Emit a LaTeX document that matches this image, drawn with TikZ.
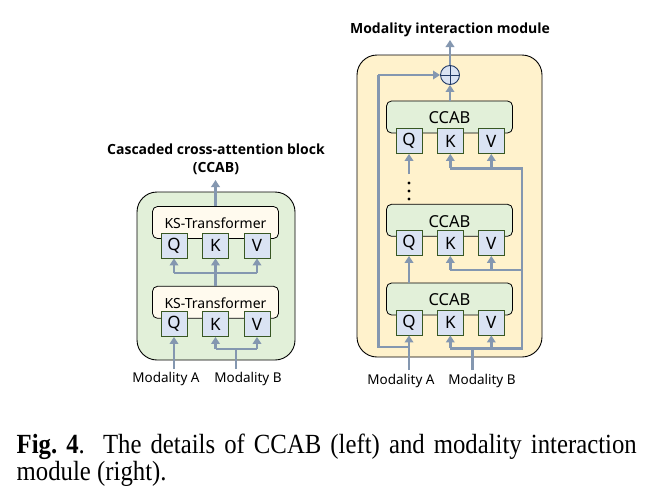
\documentclass[tikz,border=0pt]{standalone}
\usepackage{fontspec}
\setmainfont{Liberation Serif}
\newfontfamily\lab{Noto Sans}
\newfontfamily\labb{Open Sans}
\usetikzlibrary{arrows.meta}
\definecolor{grn}{RGB}{226,240,217}
\definecolor{ylw}{RGB}{255,242,204}
\definecolor{cream}{RGB}{255,250,238}
\definecolor{qkvfill}{RGB}{218,227,243}
\definecolor{qkvline}{RGB}{56,87,35}
\definecolor{arr}{RGB}{132,151,176}
\definecolor{navy}{RGB}{32,56,100}
\tikzset{
  outerbox/.style={draw=black, line width=0.9pt, rounded corners=20pt},
  blkbox/.style={draw=black, line width=0.8pt, rounded corners=5pt, minimum width=126pt, minimum height=32pt, inner sep=0pt},
  qkvbox/.style={draw=qkvline, fill=qkvfill, line width=0.8pt, minimum width=26pt, minimum height=25pt, inner sep=0pt, font=\lab\fontsize{17}{17}\selectfont},
  kslabel/.style={font=\lab\fontsize{14}{15}\selectfont, inner sep=0pt},
  ccablabel/.style={font=\lab\fontsize{16.5}{17}\selectfont, inner sep=0pt},
  title/.style={font=\labb\bfseries\fontsize{14}{18}\selectfont, align=center, inner sep=0pt},
  modlabel/.style={font=\lab\fontsize{13.5}{14}\selectfont, inner sep=0pt},
  conn/.style={draw=arr, line width=2.4pt},
  flow/.style={conn, -{Triangle[length=7pt,width=8.5pt]}},
  captext/.style={anchor=base west, inner sep=0pt, font=\fontsize{24.75}{27}\selectfont},
}
\begin{document}
\begin{tikzpicture}[x=1pt,y=-1pt]
\useasboundingbox (0,0) rectangle (660,498);
\fill[white] (0,0) rectangle (660,498);

% ================= LEFT: CCAB =================
\node[outerbox, fill=grn, minimum width=158pt, minimum height=168pt] (louter) at (216,276) {};
\node[blkbox, fill=cream] (ks1) at (215.5,222.5) {};
\node[kslabel] (ks1t) at (215.5,223.5) {KS-Transformer};
\node[qkvbox] (q1) at (174,245.5) {Q};
\node[qkvbox] (k1) at (215.5,245.5) {K};
\node[qkvbox] (v1) at (257,245.5) {V};

\node[blkbox, fill=cream] (ks2) at (215.5,302.3) {};
\node[kslabel] (ks2t) at (215.5,303) {KS-Transformer};
\node[qkvbox] (q2) at (174,324) {Q};
\node[qkvbox] (k2) at (215.5,324) {K};
\node[qkvbox] (v2) at (257,324) {V};

\node[title] (ltitle) at (216,159) {Cascaded cross-attention block\\(CCAB)};
\coordinate (lout) at (215.5,180);
\draw[flow] (ks1.north) -- (lout);

\coordinate (lmid) at (215.5,273);
\draw[conn] (ks2.north) -- (lmid);
\draw[conn] (q1 |- lmid) -- (v1 |- lmid);
\draw[flow] (q1 |- lmid) -- (q1.south);
\draw[flow] (lmid) -- (k1.south);
\draw[flow] (v1 |- lmid) -- (v1.south);

\node[modlabel] (lma) at (166,379) {Modality A};
\node[modlabel] (lmb) at (248,379) {Modality B};
\coordinate (lmaa) at (174,369);
\draw[flow] (lmaa) -- (q2.south);
\coordinate (lmbb) at (236,369);
\coordinate (lmbj) at (236,349);
\draw[conn] (lmbb) -- (lmbj);
\draw[conn] (k2 |- lmbj) -- (v2 |- lmbj);
\draw[flow] (k2 |- lmbj) -- (k2.south);
\draw[flow] (v2 |- lmbj) -- (v2.south);

% ================= RIGHT: Modality interaction module =================
\node[outerbox, fill=ylw, minimum width=185pt, minimum height=302pt] (router) at (449.5,206) {};

\node[draw=navy, fill=qkvfill, line width=0.9pt, circle, minimum size=19pt, inner sep=0pt] (plus) at (450,75) {};
\draw[navy, line width=0.9pt] (plus.north) -- (plus.south) (plus.west) -- (plus.east);

\node[title] (rtitle) at (450,30) {Modality interaction module};
\coordinate (rout) at (450,40);
\draw[flow] (plus.north) -- (rout);

% top CCAB
\node[blkbox, fill=grn] (c1) at (449.5,117) {};
\node[ccablabel] (c1t) at (449.5,118) {CCAB};
\node[qkvbox] (rq1) at (409,141) {Q};
\node[qkvbox] (rk1) at (450.3,141) {K};
\node[qkvbox] (rv1) at (491.3,141) {V};

% middle CCAB
\node[blkbox, fill=grn] (c2) at (449.5,220.3) {};
\node[ccablabel] (c2t) at (449.5,221.5) {CCAB};
\node[qkvbox] (rq2) at (409,243) {Q};
\node[qkvbox] (rk2) at (450.3,243) {K};
\node[qkvbox] (rv2) at (491.3,243) {V};

% bottom CCAB
\node[blkbox, fill=grn] (c3) at (449.5,299) {};
\node[ccablabel] (c3t) at (449.5,299.5) {CCAB};
\node[qkvbox] (rq3) at (409,322.5) {Q};
\node[qkvbox] (rk3) at (450.3,322.5) {K};
\node[qkvbox] (rv3) at (491.3,322.5) {V};

% output of top CCAB into plus
\draw[flow] (c1.north -| plus) -- (plus.south);

% dots and arrow into top Q
\coordinate (dtop) at (409,174);
\draw[flow] (dtop) -- (rq1.south);
\fill[black] (409,183) circle (1.6pt) (409,191) circle (1.6pt) (409,199) circle (1.6pt);

% bottom CCAB Q output to middle Q
\draw[flow] (rq2 |- c3.north) -- (rq2.south);

% residual left line
\coordinate (rlb) at (378.3,347);
\coordinate (rlt) at (378.3,75);
\draw[conn, line join=miter] (rq3 |- rlb) -- (rlb) -- (rlt);
\draw[flow] (rlt) -- (plus.west);

% modality A
\node[modlabel] (rma) at (401,381) {Modality A};
\coordinate (rmaa) at (409,370);
\draw[flow] (rmaa) -- (rq3.south);

% modality B
\node[modlabel] (rmb) at (482,381) {Modality B};
\coordinate (rmbb) at (472.3,370);
\coordinate (rmbj) at (472.3,348.3);
\coordinate (rrb) at (521.7,348.3);
\coordinate (rr2) at (521.7,270);
\coordinate (rr1) at (521.7,168.3);
\draw[conn] (rmbb) -- (rmbj);
\draw[conn, line join=miter] (rk3 |- rmbj) -- (rrb) -- (rr1) -- (rk1 |- rr1);
\draw[conn] (rk2 |- rr2) -- (rr2);
\draw[flow] (rk3 |- rmbj) -- (rk3.south);
\draw[flow] (rv3 |- rmbj) -- (rv3.south);
\draw[flow] (rk2 |- rr2) -- (rk2.south);
\draw[flow] (rv2 |- rr2) -- (rv2.south);
\draw[flow] (rk1 |- rr1) -- (rk1.south);
\draw[flow] (rv1 |- rr1) -- (rv1.south);

% ================= Caption =================
\node[captext] (cap1) at (16.5,453.3)
  {\scalebox{1}[1.12]{\makebox[620pt][s]{\textbf{Fig.\ 4}.\ \ The details of CCAB (left) and modality interaction}}};
\node[captext] (cap2) at (16.5,480.3)
  {\scalebox{1}[1.12]{module (right).}};
\end{tikzpicture}
\end{document}
